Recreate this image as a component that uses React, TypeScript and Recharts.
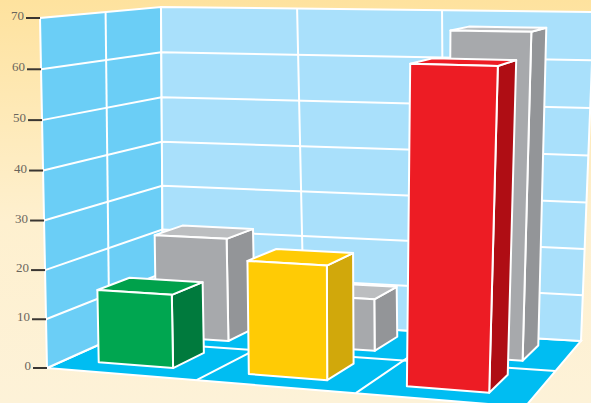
import { BarChart, Bar, XAxis, YAxis, Customized } from "recharts"

const categories = ["A", "B", "C"]
const frontValues = [15, 22.8, 62.3]
const backValues = [22.2, 11, 67]
const frontColors = ["#00a650", "#ffcb05", "#ed1c24"]
const frontSides = ["#007a3d", "#d1a80b", "#af0d14"]
const frontTops = ["#00a14b", "#ffcb05", "#ed1c24"]
const yTicks = [0, 10, 20, 30, 40, 50, 60, 70]

const data = categories.map((name, i) => ({ name, front: frontValues[i], back: backValues[i] }))

const WIDTH = 591
const HEIGHT = 403
const MARGIN = { top: 18, right: 66, bottom: 35, left: 46 }
const AXIS_W = 1
const PLOT_LEFT = MARGIN.left + AXIS_W
const PLOT_W = WIDTH - PLOT_LEFT - MARGIN.right
const PLOT_BOTTOM = HEIGHT - MARGIN.bottom
const PX_PER_UNIT = (PLOT_BOTTOM - MARGIN.top) / 70

type Pt = [number, number]

// square -> quad, corners are (u,w) = (0,0) (1,0) (1,1) (0,1)
function quadMap(a: Pt, b: Pt, c: Pt, d: Pt) {
  const dx1 = b[0] - c[0]
  const dx2 = d[0] - c[0]
  const sx = a[0] - b[0] + c[0] - d[0]
  const dy1 = b[1] - c[1]
  const dy2 = d[1] - c[1]
  const sy = a[1] - b[1] + c[1] - d[1]
  const det = dx1 * dy2 - dx2 * dy1
  const g = (sx * dy2 - dx2 * sy) / det
  const h = (dx1 * sy - sx * dy1) / det
  return (u: number, w: number): Pt => {
    const q = g * u + h * w + 1
    return [
      ((b[0] - a[0] + g * b[0]) * u + (d[0] - a[0] + h * d[0]) * w + a[0]) / q,
      ((b[1] - a[1] + g * b[1]) * u + (d[1] - a[1] + h * d[1]) * w + a[1]) / q,
    ]
  }
}

const floorMap = quadMap([47, 368], [525, 407], [581, 341], [163, 316])
const roofMap = quadMap([40, 18], [538, 28], [594, 12], [161, 7])

function project(u: number, w: number, v: number): Pt {
  const t = v / 70
  const k = t / (1 + 0.03 * (1 - t))
  // the corners alone give too much foreshortening across the width
  const bow = u * (1 - u)
  const lo = floorMap(u + (0.07 + 0.09 * w) * bow, w)
  const hi = roofMap(u + 0.16 * bow, w)
  return [lo[0] + (hi[0] - lo[0]) * k, lo[1] + (hi[1] - lo[1]) * k]
}

const pts = (list: Pt[]) => list.map((p) => p.join(",")).join(" ")

function Walls() {
  const line = { stroke: "#fff", strokeWidth: 2, fill: "none" }
  return (
    <g>
      <polygon points={pts([project(0, 0, 0), project(0, 1, 0), project(1, 1, 0), project(1, 0, 0)])} fill="#00bdf2" stroke="#fff" strokeWidth={2} />
      <polygon points={pts([project(0, 0, 0), project(0, 1, 0), project(0, 1, 70), project(0, 0, 70)])} fill="#6bcef6" stroke="#fff" strokeWidth={2} />
      <polygon points={pts([project(0, 1, 0), project(1, 1, 0), project(1, 1, 70), project(0, 1, 70)])} fill="#a9e0fb" stroke="#fff" strokeWidth={2} />
      {yTicks.slice(1, -1).map((v) => (
        <polyline key={v} points={pts([project(0, 0, v), project(0, 1, v), project(1, 1, v)])} {...line} />
      ))}
      <line x1={project(0, 0.5, 0)[0]} y1={project(0, 0.5, 0)[1]} x2={project(0, 0.5, 70)[0]} y2={project(0, 0.5, 70)[1]} {...line} />
      <polyline points={pts([project(0, 0.5, 0), project(1, 0.5, 0)])} {...line} />
      {[1 / 3, 2 / 3].map((u) => (
        <polyline key={u} points={pts([project(u, 0, 0), project(u, 1, 0), project(u, 1, 70)])} {...line} />
      ))}
    </g>
  )
}

// turn the bar rectangle from the library's scales into a box on the floor
function makeBox(w0: number, w1: number, shift: number, fills: string[], sides: string[], tops: string[]) {
  return function Box(props: any) {
    const { x, y, width, index } = props
    const u0 = (x - PLOT_LEFT) / PLOT_W + shift
    const u1 = u0 + width / PLOT_W
    const v = (PLOT_BOTTOM - y) / PX_PER_UNIT
    const style = { stroke: "#fff", strokeWidth: 2, strokeLinejoin: "round" as const }
    return (
      <g>
        <polygon points={pts([project(u1, w0, 0), project(u1, w1, 0), project(u1, w1, v), project(u1, w0, v)])} fill={sides[index]} {...style} />
        <polygon points={pts([project(u0, w0, v), project(u1, w0, v), project(u1, w1, v), project(u0, w1, v)])} fill={tops[index]} {...style} />
        <polygon points={pts([project(u0, w0, 0), project(u1, w0, 0), project(u1, w0, v), project(u0, w0, v)])} fill={fills[index]} {...style} />
      </g>
    )
  }
}

const BackBox = makeBox(0.62, 0.88, -0.006, ["#a7a9ac", "#a7a9ac", "#a7a9ac"], ["#939598", "#939598", "#939598"], ["#bcbec0", "#bcbec0", "#bcbec0"])
const FrontBox = makeBox(0.14, 0.4, -0.007, frontColors, frontSides, frontTops)

function Tick(props: any) {
  const value = props.payload.value
  const [px, py] = project(0, 0, value)
  return (
    <g>
      <line x1={px - 14} y1={py} x2={px} y2={py} stroke="#3a3632" strokeWidth={2} />
      <text x={px - 16} y={py} dy={2} textAnchor="end" fontFamily="Liberation Serif" fontSize={13} fill="#6a655c">
        {value}
      </text>
    </g>
  )
}

export default function App() {
  return (
    <div style={{ width: WIDTH, height: HEIGHT, overflow: "hidden", background: "linear-gradient(180deg, #fee29e 0%, #fef0cf 55%, #fdf2d8 100%)" }}>
      <style>{"body{margin:0}"}</style>
      <BarChart width={WIDTH} height={HEIGHT} data={data} margin={MARGIN} barCategoryGap="25%">
        <Customized component={Walls} />
        <XAxis xAxisId="back" dataKey="name" hide />
        <XAxis xAxisId="front" dataKey="name" hide />
        <YAxis width={AXIS_W} domain={[0, 70]} ticks={yTicks} axisLine={false} tickLine={false} tick={Tick} interval={0} />
        <Bar xAxisId="back" dataKey="back" isAnimationActive={false} shape={BackBox} />
        <Bar xAxisId="front" dataKey="front" isAnimationActive={false} shape={FrontBox} />
      </BarChart>
    </div>
  )
}
